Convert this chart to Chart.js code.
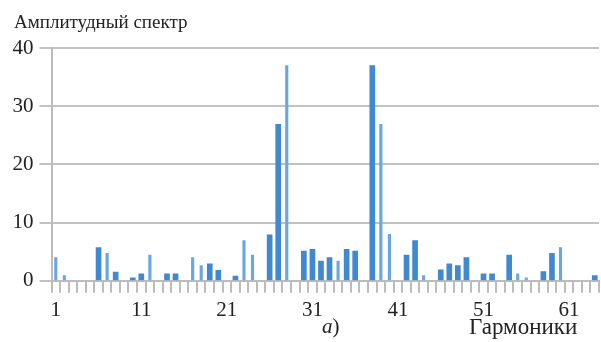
<!DOCTYPE html>
<html>
<head>
<meta charset="utf-8">
<script src="https://cdn.jsdelivr.net/npm/chart.js@4"></script>
<style>
  html, body { margin: 0; padding: 0; background: #fff; }
  #wrap { position: relative; width: 601px; height: 342px; }
  #chart { position: absolute; left: 0; top: 0; }
  .txt { position: absolute; font-family: "Liberation Serif", serif; color: #222; line-height: 1; white-space: nowrap; }
</style>
</head>
<body>
<div id="wrap">
  <canvas id="chart" width="601" height="342"></canvas>
  <div class="txt" id="ttl" style="left:14px; top:12px; font-size:19px;">Амплитудный спектр</div>
  <div class="txt" id="sub" style="left:322px; top:316px; font-size:21px;"><i>а</i>)</div>
  <div class="txt" id="xname" style="left:469px; top:315px; font-size:23px;">Гармоники</div>
</div>
<script>
// Harmonic numbers along the x axis
const harmonics = [
  1, 2, 3, 4, 5, 6, 7, 8, 9, 10, 11, 12, 13, 14, 15, 16,
  17, 18, 19, 20, 21, 22, 23, 24, 25, 26, 27, 28, 29, 30, 31, 32,
  33, 34, 35, 36, 37, 38, 39, 40, 41, 42, 43, 44, 45, 46, 47, 48,
  49, 50, 51, 52, 53, 54, 55, 56, 57, 58, 59, 60, 61, 62, 63, 64
];

// Labelled harmonics on the x axis
const shownTicks = ['1', '11', '21', '31', '41', '51', '61'];

// Y axis tick values
const yTicks = [0, 10, 20, 30, 40];

// Amplitudes drawn as wide bars (null = no bar)
const wideAmp = [
  null, null, null, null, null, 5.7, null, 1.5, null, 0.5, 1.2, null, null, 1.2, 1.2, null,
  null, null, 2.9, 1.8, null, 0.8, null, null, null, 7.9, 26.9, null, null, 5.1, 5.4, 3.4,
  4.0, null, 5.4, 5.1, null, 37.0, null, null, null, 4.4, 6.9, null, null, 1.9, 2.9, 2.6,
  4.0, null, 1.2, 1.2, null, 4.4, null, null, null, 1.6, 4.7, null, null, null, null, 0.9
];

// Amplitudes drawn as narrow bars (null = no bar)
const narrowAmp = [
  4.0, 0.9, null, null, null, null, 4.7, null, null, null, null, 4.4, null, null, null, null,
  4.0, 2.6, null, null, null, null, 6.9, 4.4, null, null, null, 37.0, null, null, null, null,
  null, 3.4, null, null, null, null, 26.9, 8.0, null, null, null, 0.9, null, null, null, null,
  null, null, null, null, null, null, 1.2, 0.5, null, null, null, 5.7, null, null, null, null
];

const serif = '"Liberation Serif", "Times New Roman", serif';
const axisGray = '#bcbcbc';

new Chart(document.getElementById('chart'), {
  type: 'bar',
  data: {
    labels: harmonics.map(String),
    datasets: [
      {
        data: wideAmp,
        backgroundColor: '#3f88d2',
        barThickness: 5,
        grouped: false
      },
      {
        data: narrowAmp,
        backgroundColor: '#6aa7e2',
        barThickness: 2.5,
        grouped: false
      }
    ]
  },
  options: {
    responsive: false,
    animation: false,
    events: [],
    layout: { padding: { top: 48, right: 2, bottom: 14, left: 0 } },
    plugins: {
      legend: { display: false },
      tooltip: { enabled: false },
      title: { display: false }
    },
    scales: {
      x: {
        type: 'category',
        offset: true,
        grid: {
          offset: true,
          drawOnChartArea: false,
          drawTicks: true,
          tickLength: 12,
          color: axisGray,
          lineWidth: 2
        },
        border: { display: true, color: axisGray, width: 2 },
        ticks: {
          autoSkip: false,
          maxRotation: 0,
          minRotation: 0,
          padding: 5,
          color: '#222',
          font: { family: serif, size: 21 },
          callback: function (value, index) {
            const lbl = this.getLabelForValue(value);
            return shownTicks.includes(lbl) ? lbl : '';
          }
        }
      },
      y: {
        min: yTicks[0],
        max: yTicks[yTicks.length - 1],
        afterBuildTicks: (scale) => { scale.ticks = yTicks.map(v => ({ value: v })); },
        afterFit: (scale) => { scale.width = 51.5; },
        grid: {
          color: '#c2c2c2',
          lineWidth: 2,
          drawTicks: true,
          tickLength: 12
        },
        border: { display: true, color: axisGray, width: 2 },
        ticks: {
          padding: 6,
          color: '#222',
          font: { family: serif, size: 21 }
        }
      }
    }
  }
});
</script>
</body>
</html>
